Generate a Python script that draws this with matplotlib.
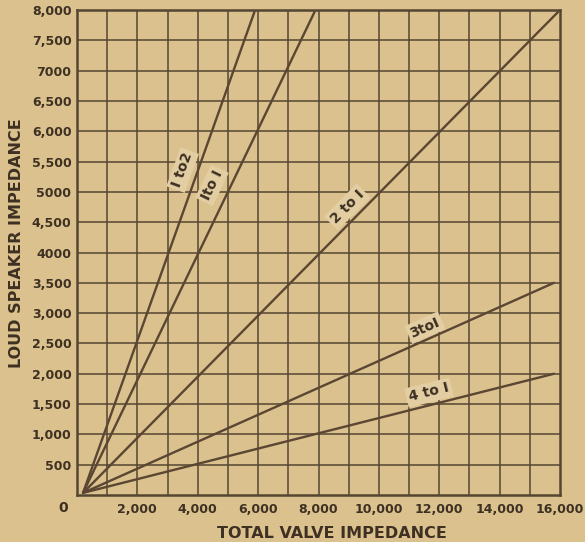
import matplotlib
matplotlib.use('Agg')
import matplotlib.pyplot as plt

# lines from the common origin to where they leave the grid
ratios = ['1 to 2', '1 to 1', '2 to 1', '3 to 1', '4 to 1']
start_x = 200
start_y = 35
end_x = [5900, 7900, 16000, 15800, 15800]
end_y = [8000, 8000, 8000, 3500, 2000]

# label placement (data coords) and rotation
label_x = [3500, 4470, 8950, 11530, 11660]
label_y = [5360, 5110, 4750, 2760, 1690]
label_rot = [70, 64, 45, 24, 14]
label_txt = ['I to2', 'Ito I', '2 to I', '3toI', '4 to I']

x_ticks = [2000, 4000, 6000, 8000, 10000, 12000, 14000, 16000]
x_labels = ['2,000', '4,000', '6,000', '8,000', '10,000', '12,000', '14,000', '16,000']
y_ticks = [500, 1000, 1500, 2000, 2500, 3000, 3500, 4000, 4500, 5000,
           5500, 6000, 6500, 7000, 7500, 8000]
y_labels = ['500', '1,000', '1,500', '2,000', '2,500', '3,000', '3,500', '4000',
            '4,500', '5000', '5,500', '6,000', '6,500', '7000', '7,500', '8,000']

bg = '#dbc18d'
ink = '#3e3022'
gridc = '#554632'

plt.rcParams['font.family'] = ['DejaVu Sans']

fig = plt.figure(figsize=(5.85, 5.42), dpi=100, facecolor=bg)
ax = fig.add_axes([77/585, 1-495/542, (560-77)/585, (495-10)/542])
ax.set_facecolor(bg)
ax.set_xlim(0, 16000)
ax.set_ylim(0, 8000)

# grid every 1000 horizontally, 500 vertically
for gx in range(1000, 16000, 1000):
    ax.axvline(gx, color=gridc, lw=1.1, zorder=1)
for gy in range(500, 8000, 500):
    ax.axhline(gy, color=gridc, lw=1.1, zorder=1)

for sp in ax.spines.values():
    sp.set_color(gridc)
    sp.set_linewidth(1.8)

for i in range(len(ratios)):
    ax.plot([start_x, end_x[i]], [start_y, end_y[i]], color='#5a4632',
            lw=1.7, zorder=3, solid_capstyle='round')
    ax.text(label_x[i], label_y[i], label_txt[i], rotation=label_rot[i],
            ha='center', va='center', fontsize=10, fontweight='bold', color=ink,
            zorder=2, rotation_mode='anchor',
            bbox=dict(boxstyle='square,pad=0.2', fc='#e2cea2', ec='none'))

ax.set_xticks(x_ticks)
ax.set_xticklabels(x_labels)
ax.set_yticks(y_ticks)
ax.set_yticklabels(y_labels)
ax.tick_params(length=0, labelsize=9, colors=ink, pad=6)
ax.tick_params(axis='y', pad=4)
for lab in ax.get_xticklabels() + ax.get_yticklabels():
    lab.set_fontweight('bold')

ax.text(-460, -220, '0', ha='center', va='center', fontsize=10,
        fontweight='bold', color=ink, clip_on=False)

fig.text(332/585, 1-533/542, 'TOTAL VALVE IMPEDANCE', ha='center', va='center',
         fontsize=11.5, fontweight='bold', color=ink)
fig.text(17/585, 1-243/542, 'LOUD SPEAKER IMPEDANCE', ha='center', va='center',
         rotation=90, fontsize=11.5, fontweight='bold', color=ink)

fig.savefig('out.png', dpi=100, facecolor=bg)
